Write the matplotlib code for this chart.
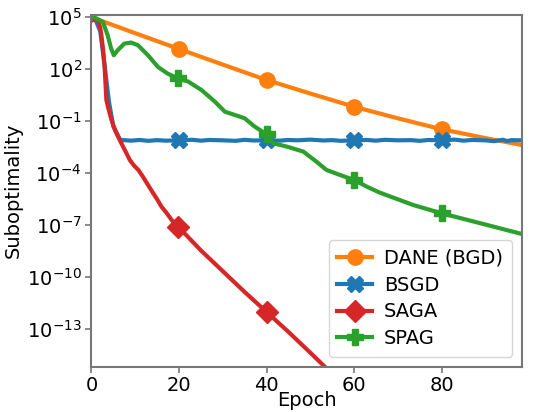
import numpy as np
import matplotlib.pyplot as plt

# log10 suboptimality, per method
dane_ep = [0, 10, 20, 30, 40, 50, 60, 70, 80, 90, 98.3]
dane_log = [5.0, 4.08, 3.17, 2.27, 1.38, 0.6, -0.16, -0.83, -1.46, -1.97, -2.37]

bsgd_ep = [0, 1, 2, 3, 4, 5, 6, 6.6, 8, 9, 11, 13, 15, 17, 20, 23, 25, 27, 30, 33, 35,
           37, 40, 43, 45, 47, 50, 53, 55, 57, 60, 63, 65, 67, 70, 73, 75, 77, 80,
           83, 85, 87, 90, 92, 94, 95, 96, 98.3]
bsgd_log = [5.0, 4.8, 4.2, 2.2, 0.1, -1.3, -1.8, -2.08, -2.1, -2.12, -2.08, -2.13, -2.09,
            -2.12, -2.1, -2.07, -2.12, -2.08, -2.1, -2.13, -2.07, -2.11, -2.1, -2.12,
            -2.08, -2.1, -2.06, -2.11, -2.09, -2.13, -2.1, -2.08, -2.12, -2.07, -2.1,
            -2.09, -2.13, -2.08, -2.1, -2.06, -2.12, -2.08, -2.1, -2.15, -2.07,
            -2.14, -2.09, -2.1]

saga_ep = [0, 0.8, 1.5, 2.0, 2.3, 2.7, 3.0, 3.4, 4.0, 4.57, 5.0, 5.7, 6.4, 7.2, 8.0,
           8.75, 9.7, 10.7, 11.5, 12.2, 13.1, 14.1, 15.0, 16.0, 17.2, 18.3, 19.8,
           25, 30, 35, 40, 45, 50, 53.3, 56]
saga_log = [4.8, 4.9, 4.82, 4.4, 3.88, 3.0, 2.15, 0.23, -0.4, -0.92, -1.25, -1.69,
            -2.05, -2.46, -2.85, -3.23, -3.55, -3.81, -4.1, -4.38, -4.75, -5.15,
            -5.5, -5.93, -6.3, -6.69, -7.08, -8.45, -9.65, -10.85, -12.0, -13.15,
            -14.35, -15.16, -15.8]

spag_ep = [0, 1, 2.6, 3.7, 4.5, 5.1, 6.0, 7.5, 9.05, 10.6, 12.9, 15.2, 17.4, 19.8,
           22.1, 25.1, 28.2, 30.5, 32.8, 35.0, 37.3, 40, 41.5, 44.6, 48.4, 51.4,
           53.7, 56.8, 60, 62.9, 65.9, 73.5, 80, 88.8, 98.3]
spag_log = [5.0, 4.95, 4.73, 3.96, 3.19, 2.81, 3.1, 3.48, 3.54, 3.39, 2.81, 2.13,
            1.75, 1.47, 1.29, 0.81, 0.13, -0.45, -0.64, -0.83, -1.31, -1.75, -2.27,
            -2.46, -2.75, -3.33, -3.81, -4.1, -4.39, -4.77, -5.12, -5.83, -6.31,
            -6.88, -7.5]

methods = ["DANE (BGD)", "BSGD", "SAGA", "SPAG"]
colors = ["#ff7f0e", "#1f77b4", "#d62728", "#2ca02c"]
markers = ["o", "X", "D", "P"]
mark_at = [20, 40, 60, 80]

plt.rcParams['font.size'] = 14
fig, ax = plt.subplots(figsize=(5.35, 4.12), dpi=100)

series = [(dane_ep, dane_log), (bsgd_ep, bsgd_log), (saga_ep, saga_log), (spag_ep, spag_log)]
for (ep, lg), name, c, m in zip(series, methods, colors, markers):
    ep = np.array(ep, dtype=float)
    vals = 10.0 ** np.array(lg)
    # put markers on the points nearest to the marked epochs
    idx = [int(np.argmin(np.abs(ep - e))) for e in mark_at if e <= ep.max()]
    ax.plot(ep, vals, color=c, lw=3, marker=m, markersize=11, markevery=idx, label=name,
            solid_joinstyle='round')

ax.set_yscale('log')
ax.set_xlim(0, 98.3)
ax.set_ylim(10 ** -15.16, 10 ** 5.14)
ax.set_yticks([1e5, 1e2, 1e-1, 1e-4, 1e-7, 1e-10, 1e-13])
ax.minorticks_off()
ax.set_xticks([0, 20, 40, 60, 80])
ax.set_xlabel("Epoch", labelpad=-3)
ax.set_ylabel("Suboptimality", labelpad=3)

for s in ax.spines.values():
    s.set_color("#777777")
    s.set_linewidth(1.5)
ax.tick_params(color="#777777", width=1.2, length=4, pad=3)

ax.legend(loc="lower right", fontsize=14, handlelength=1.8, borderaxespad=0.5,
          handletextpad=0.6, labelspacing=0.4, borderpad=0.45)

fig.subplots_adjust(left=0.171, right=0.975, top=0.964, bottom=0.11)
fig.savefig("out.png")
